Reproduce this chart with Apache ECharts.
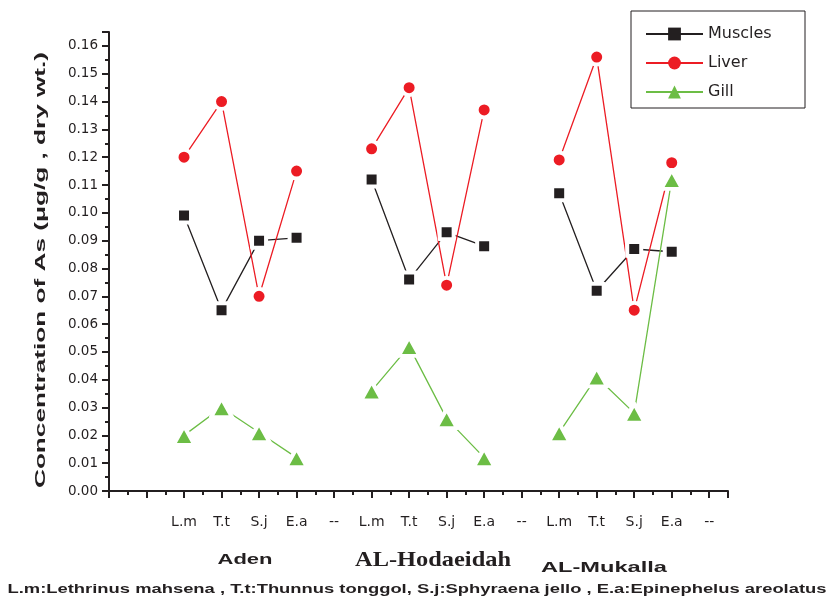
<!DOCTYPE html>
<html>
<head>
<meta charset="utf-8">
<script src="https://cdn.jsdelivr.net/npm/echarts@6/dist/echarts.min.js"></script>
<style>
  html, body { margin: 0; padding: 0; background: #fff; }
  #chart { width: 829px; height: 598px; }
</style>
</head>
<body>
<div id="chart"></div>
<script>
// Species codes, site names and the x tick labels (integer positions 0..16)
const species = ['L.m', 'T.t', 'S.j', 'E.a'];
const sites = ['Aden', 'AL-Hodaeidah', 'AL-Mukalla'];
const xTickLabels = ['', '', 'L.m', 'T.t', 'S.j', 'E.a', '--',
                     'L.m', 'T.t', 'S.j', 'E.a', '--',
                     'L.m', 'T.t', 'S.j', 'E.a', '--'];

// As concentration (µg/g dry wt.), Aden | AL-Hodaeidah | AL-Mukalla
const muscles = [0.099, 0.065, 0.090, 0.091,
                 0.112, 0.076, 0.093, 0.088,
                 0.107, 0.072, 0.087, 0.086];
const liver   = [0.120, 0.140, 0.070, 0.115,
                 0.123, 0.145, 0.074, 0.137,
                 0.119, 0.156, 0.065, 0.118];
const gill    = [0.020, 0.030, 0.021, 0.012,
                 0.036, 0.052, 0.026, 0.012,
                 0.021, 0.041, 0.028, 0.112];

const ink = '#231f20';
const colors = { Muscles: '#231f20', Liver: '#ec1c24', Gill: '#6cbd45' };

// Pair each value with its tick position; '--' ticks break the line between sites
function toPoints(values) {
  const pts = [];
  let n = 0;
  xTickLabels.forEach((lab, k) => {
    if (species.includes(lab)) pts.push([k, values[n++]]);
    else if (lab === '--') pts.push([k, '-']);
  });
  return pts;
}

const measureCtx = document.createElement('canvas').getContext('2d');
function textWidth(text, font) {
  measureCtx.font = font;
  return measureCtx.measureText(text).width;
}
// Widely tracked captions: stretch the text so it spans the given length
function caption(text, font, cx, cy, span, rotation) {
  return {
    type: 'text',
    x: cx, y: cy,
    rotation: rotation || 0,
    scaleX: span / textWidth(text, font),
    silent: true,
    style: { text: text, font: font, fill: ink, textAlign: 'center', textVerticalAlign: 'middle' }
  };
}

const legendFont = '16px "DejaVu Sans"';
const legendPadRight = Math.max(4, (804 - 631) - 14 - 62 - textWidth('Muscles', legendFont));

const chart = echarts.init(document.getElementById('chart'), null, { renderer: 'canvas' });

function lineSeries(name, values, symbol, size) {
  return {
    name: name,
    type: 'line',
    data: toPoints(values),
    symbol: symbol,
    symbolSize: size,
    connectNulls: false,
    lineStyle: { color: colors[name], width: 1.3 },
    itemStyle: { color: colors[name], borderColor: '#ffffff', borderWidth: 4, borderJoin: 'round' },
    emphasis: { disabled: true },
    animation: false
  };
}

chart.setOption({
  animation: false,
  backgroundColor: '#ffffff',
  grid: { left: 109, right: 101, top: 32, bottom: 107, containLabel: false, outerBoundsMode: 'none' },
  xAxis: {
    type: 'value',
    min: 0, max: 16.5, interval: 1,
    splitLine: { show: false },
    axisLine: { show: true, lineStyle: { color: ink, width: 2 } },
    axisTick: { show: true, length: 7, lineStyle: { color: ink, width: 2 } },
    minorTick: { show: true, splitNumber: 2, length: 4, lineStyle: { color: ink, width: 2 } },
    axisLabel: {
      margin: 24,
      color: ink,
      fontFamily: 'DejaVu Sans',
      fontSize: 14,
      formatter: v => (Number.isInteger(v) ? xTickLabels[v] : '')
    }
  },
  yAxis: {
    type: 'value',
    min: 0, max: 0.165, interval: 0.01,
    splitLine: { show: false },
    axisLine: { show: true, lineStyle: { color: ink, width: 2 } },
    axisTick: { show: true, length: 7, lineStyle: { color: ink, width: 2 } },
    minorTick: { show: true, splitNumber: 2, length: 4, lineStyle: { color: ink, width: 2 } },
    axisLabel: {
      margin: 11,
      color: ink,
      fontFamily: 'DejaVu Sans',
      fontSize: 13.5,
      formatter: v => {
        const r = Math.round(v * 100);
        return Math.abs(v * 100 - r) < 1e-6 ? (r / 100).toFixed(2) : '';
      }
    }
  },
  legend: {
    orient: 'vertical',
    left: 631, top: 11,
    padding: [15, legendPadRight, 8, 14],
    itemWidth: 57, itemHeight: 16, itemGap: 13,
    borderColor: ink, borderWidth: 1,
    selectedMode: false,
    itemStyle: { borderWidth: 0 },
    textStyle: { fontFamily: 'DejaVu Sans', fontSize: 16, color: ink },
    data: ['Muscles', 'Liver', 'Gill']
  },
  graphic: [
    caption('Concentration of As (\u03bcg/g , dry wt.)', 'bold 15px "Liberation Sans"', 41, 270, 436, Math.PI / 2),
    caption(sites[0], 'bold 15px "Liberation Sans"', 245, 560, 55),
    caption(sites[1], 'bold 21px "Liberation Serif"', 433, 561, 156),
    caption(sites[2], 'bold 15px "Liberation Sans"', 604, 568, 126),
    caption('L.m:Lethrinus mahsena , T.t:Thunnus tonggol, S.j:Sphyraena jello , E.a:Epinephelus areolatus',
            'bold 12px "Liberation Sans"', 417, 590, 819)
  ],
  series: [
    lineSeries('Muscles', muscles, 'rect', 14),
    lineSeries('Liver', liver, 'circle', 15),
    lineSeries('Gill', gill, 'triangle', [21, 19])
  ]
});
</script>
</body>
</html>
